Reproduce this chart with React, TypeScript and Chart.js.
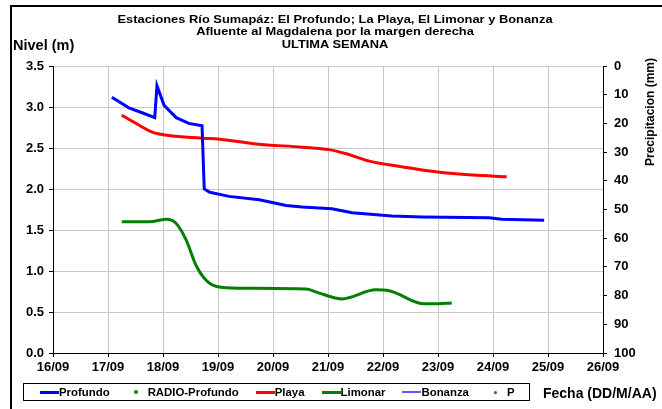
import React, { useEffect, useRef } from "react";
import { Chart, registerables } from "chart.js";
Chart.register(...registerables);

// ---------- data ----------
const titleLines = [
  "Estaciones Río Sumapáz: El Profundo; La Playa, El Limonar y Bonanza",
  "Afluente al Magdalena por la margen derecha",
  "ULTIMA SEMANA",
];
const xTickDays = [16, 17, 18, 19, 20, 21, 22, 23, 24, 25, 26];
const xTickLabels = ["16/09", "17/09", "18/09", "19/09", "20/09", "21/09", "22/09", "23/09", "24/09", "25/09", "26/09"];

const profundoDays = [17.07, 17.38, 17.62, 17.85, 17.89, 18.02, 18.24, 18.47, 18.71, 18.75, 18.85, 19.2, 19.75, 20.24, 20.53, 21.07, 21.44, 22.16, 22.71, 23.93, 24.16, 24.93];
const profundoLevels = [3.12, 2.99, 2.93, 2.87, 3.26, 3.02, 2.87, 2.8, 2.77, 2.0, 1.96, 1.91, 1.87, 1.8, 1.78, 1.76, 1.71, 1.67, 1.66, 1.65, 1.63, 1.62];

const playaDays = [17.25, 17.56, 17.75, 17.93, 18.71, 19.0, 19.69, 20.53, 21.02, 21.33, 21.75, 22.35, 22.96, 23.62, 24.25];
const playaLevels = [2.9, 2.78, 2.71, 2.67, 2.62, 2.61, 2.55, 2.51, 2.48, 2.43, 2.34, 2.27, 2.21, 2.17, 2.15];

const limonarDays = [17.25, 17.75, 18.07, 18.24, 18.42, 18.6, 18.78, 18.98, 19.38, 20.6, 20.84, 21.25, 21.87, 22.11, 22.75, 22.96, 23.25];
const limonarLevels = [1.6, 1.6, 1.63, 1.58, 1.38, 1.07, 0.89, 0.81, 0.79, 0.78, 0.73, 0.66, 0.77, 0.76, 0.6, 0.6, 0.61];

const bonanzaDays: number[] = [];
const bonanzaLevels: number[] = [];
const radioDays: number[] = [];
const radioLevels: number[] = [];
const pDays: number[] = [];
const pRain: number[] = [];

const legendItems = [
  { label: "Profundo", color: "#0000ff", kind: "line" },
  { label: "RADIO-Profundo", color: "#008000", kind: "dot" },
  { label: "Playa", color: "#ff0000", kind: "line" },
  { label: "Limonar", color: "#008000", kind: "line" },
  { label: "Bonanza", color: "#5a5aff", kind: "thin" },
  { label: "P", color: "#008000", kind: "smalldot" },
];

const pts = (xs: number[], ys: number[]) => xs.map((x, i) => ({ x, y: ys[i] }));

const FONT = "'Liberation Sans', Arial, sans-serif";

export default function App() {
  const ref = useRef<HTMLCanvasElement | null>(null);

  useEffect(() => {
    if (!ref.current) return;
    const tickFont = { family: FONT, size: 13, weight: "bold" as const };
    const chart = new Chart(ref.current, {
      type: "line",
      data: {
        datasets: [
          { label: "Profundo", data: pts(profundoDays, profundoLevels), borderColor: "#0000ff", borderWidth: 3, pointRadius: 0, tension: 0, yAxisID: "y" },
          { label: "RADIO-Profundo", data: pts(radioDays, radioLevels), borderColor: "#008000", backgroundColor: "#008000", showLine: false, pointRadius: 2, yAxisID: "y" },
          { label: "Playa", data: pts(playaDays, playaLevels), borderColor: "#ff0000", borderWidth: 3, pointRadius: 0, cubicInterpolationMode: "monotone", yAxisID: "y" },
          { label: "Limonar", data: pts(limonarDays, limonarLevels), borderColor: "#008000", borderWidth: 3, pointRadius: 0, cubicInterpolationMode: "monotone", yAxisID: "y" },
          { label: "Bonanza", data: pts(bonanzaDays, bonanzaLevels), borderColor: "#5a5aff", borderWidth: 2, pointRadius: 0, yAxisID: "y" },
          { label: "P", data: pts(pDays, pRain), borderColor: "#008000", backgroundColor: "#008000", showLine: false, pointRadius: 1.5, yAxisID: "y2" },
        ],
      },
      options: {
        animation: false,
        responsive: false,
        events: [],
        layout: { padding: { top: 66, bottom: 34, left: 0, right: 0 } },
        plugins: { legend: { display: false }, title: { display: false }, tooltip: { enabled: false } },
        scales: {
          x: {
            type: "linear",
            min: 16,
            max: 26,
            afterBuildTicks: (s: any) => { s.ticks = xTickDays.map((v) => ({ value: v })); },
            afterFit: (s: any) => { s.height = 22; },
            ticks: {
              callback: (v: any) => xTickLabels[xTickDays.indexOf(Number(v))] ?? "",
              color: "#000",
              font: tickFont,
              padding: 3,
              maxRotation: 0,
              autoSkip: false,
            },
            grid: { color: "#c8c8c8", lineWidth: 1, tickColor: "#000", tickLength: 4 },
            border: { color: "#000", width: 1 },
          },
          y: {
            position: "left",
            min: 0,
            max: 3.5,
            afterFit: (s: any) => { s.width = 53; },
            ticks: { stepSize: 0.5, callback: (v: any) => Number(v).toFixed(1), color: "#000", font: tickFont, padding: 5 },
            grid: { color: "#c8c8c8", lineWidth: 1, tickColor: "#000", tickLength: 4 },
            border: { color: "#000", width: 1 },
          },
          y2: {
            position: "right",
            min: 0,
            max: 100,
            reverse: true,
            afterFit: (s: any) => { s.width = 59; },
            ticks: { stepSize: 10, color: "#000", font: tickFont, padding: 7 },
            grid: { drawOnChartArea: false, tickColor: "#000", tickLength: 4 },
            border: { color: "#000", width: 1 },
          },
        },
      },
    });
    return () => chart.destroy();
  }, []);

  const bold = { fontFamily: FONT, fontWeight: "bold" as const, color: "#000", position: "absolute" as const, whiteSpace: "nowrap" as const };

  return (
    <div style={{ position: "fixed", left: 0, top: 0, width: 662, height: 409, background: "#fff", overflow: "hidden" }}>
      <div style={{ position: "absolute", left: 10, top: 5, width: 700, height: 450, border: "2px solid #000", boxSizing: "border-box" }} />
      <canvas ref={ref} width={662} height={409} style={{ position: "absolute", left: 0, top: 0, width: 662, height: 409 }} />
      {titleLines.map((t, i) => (
        <div key={i} style={{ ...bold, fontSize: 11.3, left: 335, top: 13 + i * 12.3, transform: "translateX(-50%) scaleX(1.14)", lineHeight: "12px" }}>{t}</div>
      ))}
      <div style={{ ...bold, fontSize: 14.5, left: 13, top: 37, lineHeight: "16px" }}>Nivel (m)</div>
      <div style={{ ...bold, fontSize: 12, left: 650, top: 112, transform: "translate(-50%, -50%) rotate(-90deg)", lineHeight: "14px" }}>Precipitacion (mm)</div>
      <div style={{ ...bold, fontSize: 14, left: 543, top: 385, lineHeight: "16px" }}>Fecha (DD/M/AA)</div>
      <div style={{ position: "absolute", left: 23, top: 383, width: 507, height: 18, border: "1px solid #000", boxSizing: "border-box", display: "flex", alignItems: "center", paddingLeft: 16 }}>
        {legendItems.map((it, i) => (
          <div key={i} style={{ display: "flex", alignItems: "center", marginRight: 17, fontFamily: FONT, fontWeight: "bold", fontSize: 11.4, whiteSpace: "nowrap" }}>
            <span style={{ width: 19, height: 3, display: "inline-flex", alignItems: "center", justifyContent: "center" }}>
              {it.kind === "line" && <span style={{ width: 19, height: 3, background: it.color }} />}
              {it.kind === "thin" && <span style={{ width: 19, height: 2, background: it.color }} />}
              {it.kind === "dot" && <span style={{ width: 4, height: 4, borderRadius: 2, background: it.color }} />}
              {it.kind === "smalldot" && <span style={{ width: 3, height: 3, borderRadius: 2, background: it.color }} />}
            </span>
            <span style={{ marginLeft: it.kind === "line" || it.kind === "thin" ? 0 : 2 }}>{it.label}</span>
          </div>
        ))}
      </div>
    </div>
  );
}
